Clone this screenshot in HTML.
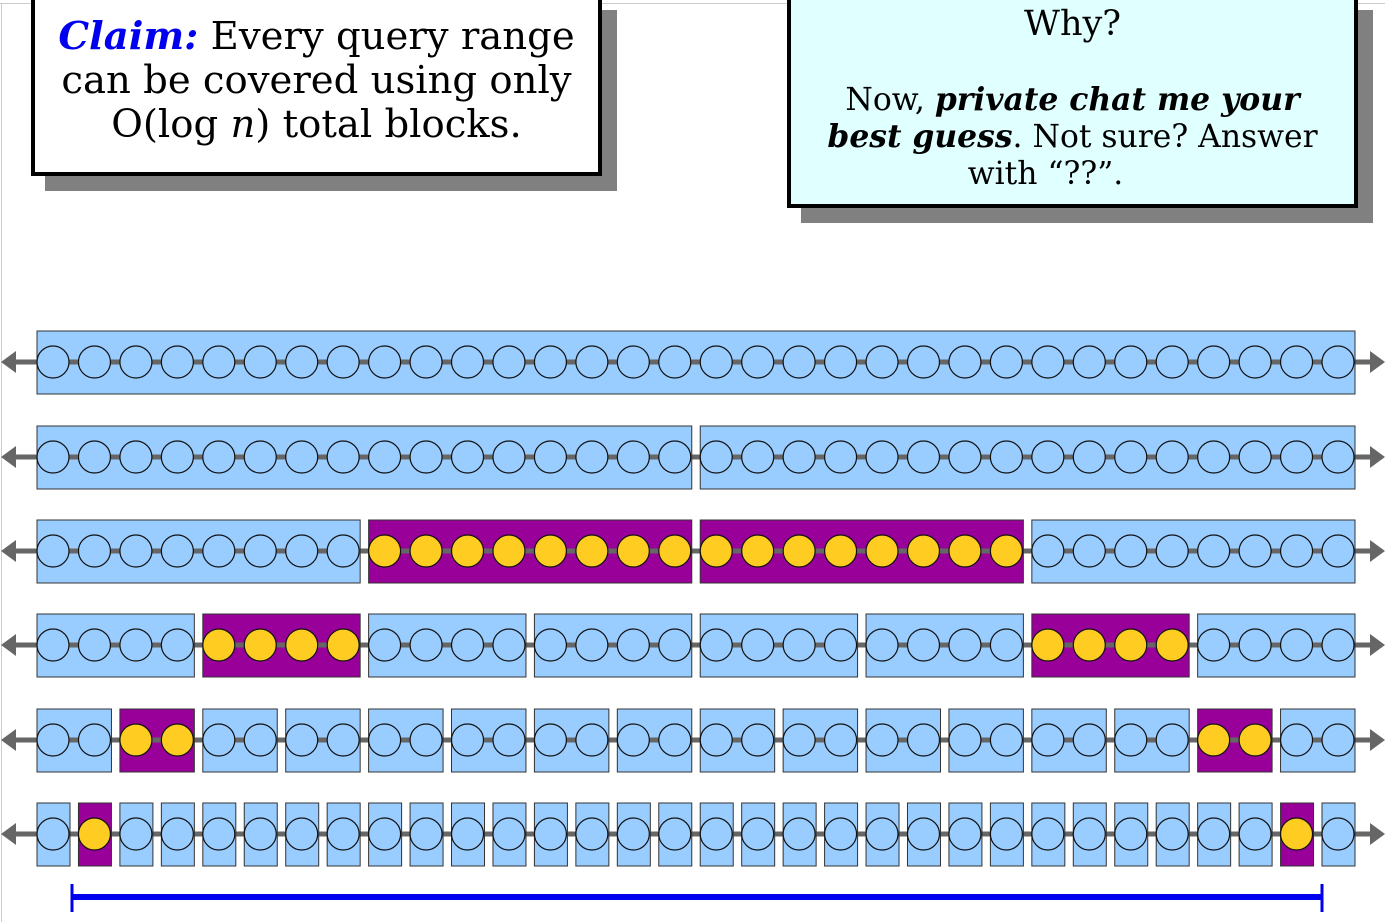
<!DOCTYPE html>
<html><head><meta charset="utf-8"><style>
html,body{margin:0;padding:0;background:#fff;}
body{width:1385px;height:922px;overflow:hidden;position:relative;}
.box{position:absolute;border:4px solid #000;box-sizing:border-box;text-align:center;font-family:"DejaVu Serif","Liberation Serif",serif;color:#000;}
.shadow{position:absolute;background:#808080;}
</style></head><body>
<div style="position:absolute;left:0;top:3px;width:1385px;height:1px;background:#ccc"></div>
<div style="position:absolute;left:1px;top:3px;width:1px;height:919px;background:#ccc"></div>
<div class="shadow" style="left:45px;top:10px;width:572px;height:181px"></div>
<div class="box" style="left:31px;top:-4px;width:571px;height:180px;background:#fff;font-size:38.6px;line-height:44px;padding-top:15px;white-space:nowrap">
<span style="color:#0000ee;font-weight:bold;font-style:italic">Claim:</span> Every query range<br>can be covered using only<br>O(log <i>n</i>) total blocks.</div>
<div class="shadow" style="left:801px;top:10px;width:572px;height:213px"></div>
<div class="box" style="left:787px;top:-4px;width:571px;height:212px;background:#e0ffff;font-size:31.4px;line-height:37px;padding-top:4px;white-space:nowrap">
<div style="font-size:35px;line-height:40px">Why?</div><div style="height:38px"></div>
Now, <b><i>private chat me your</i></b><br><b><i>best guess</i></b>. Not sure? Answer<br><span style="position:relative;left:-27px">with “??”.</span></div>
<svg id="chart" width="1385" height="922" style="position:absolute;left:0;top:0"></svg>
<script>
const rowCenters=[362,457,551,645,740,834];
const blockSizes=[32,16,8,4,2,1];
const highlighted=[[],[],[1,2],[1,6],[1,14],[1,30]];
const nItems=32;
const svg=document.getElementById('chart');
const NS='http://www.w3.org/2000/svg';
const x0=53,pitch=(1338-53)/31;
const cx=i=>x0+i*pitch;
function mk(t,a){const e=document.createElementNS(NS,t);for(const k in a)e.setAttribute(k,a[k]);svg.appendChild(e);return e;}
rowCenters.forEach((y,r)=>{
  const ln=mk('line',{x1:14,y1:y,x2:1372,y2:y,stroke:'#666','stroke-width':5});
  
  const a1=mk('polygon',{points:`1,${y} 16,${y-11} 16,${y+11}`,fill:'#666'});
  
  const a2=mk('polygon',{points:`1385,${y} 1370,${y-11} 1370,${y+11}`,fill:'#666'});
  
  const bs=blockSizes[r];
  for(let b=0;b<nItems/bs;b++){
    const hl=highlighted[r].includes(b);
    const L=cx(b*bs)-16,R=cx(b*bs+bs-1)+17;
    const rect=mk('rect',{x:L,y:y-31,width:R-L,height:63,fill:hl?'#990099':'#99ccff',stroke:'#333','stroke-width':1});
    
    
  }
  for(let b=0;b<nItems/bs;b++){
    if(bs>1){const s=mk('line',{x1:cx(b*bs),y1:y,x2:cx(b*bs+bs-1),y2:y,stroke:'#666','stroke-width':5});
    }
  }
  for(let i=0;i<nItems;i++){
    const hl=highlighted[r].includes(Math.floor(i/bs));
    const c=mk('circle',{cx:cx(i),cy:y,r:16,fill:hl?'#ffcc22':'#99ccff',stroke:'#111','stroke-width':1.2});
    
    
  }
});
const q=mk('line',{x1:72,y1:897,x2:1322,y2:897,stroke:'#0000ee','stroke-width':6});

const t1=mk('line',{x1:72,y1:884,x2:72,y2:912,stroke:'#0000ee','stroke-width':3});

const t2=mk('line',{x1:1322,y1:884,x2:1322,y2:912,stroke:'#0000ee','stroke-width':3});

</script>
</body></html>
